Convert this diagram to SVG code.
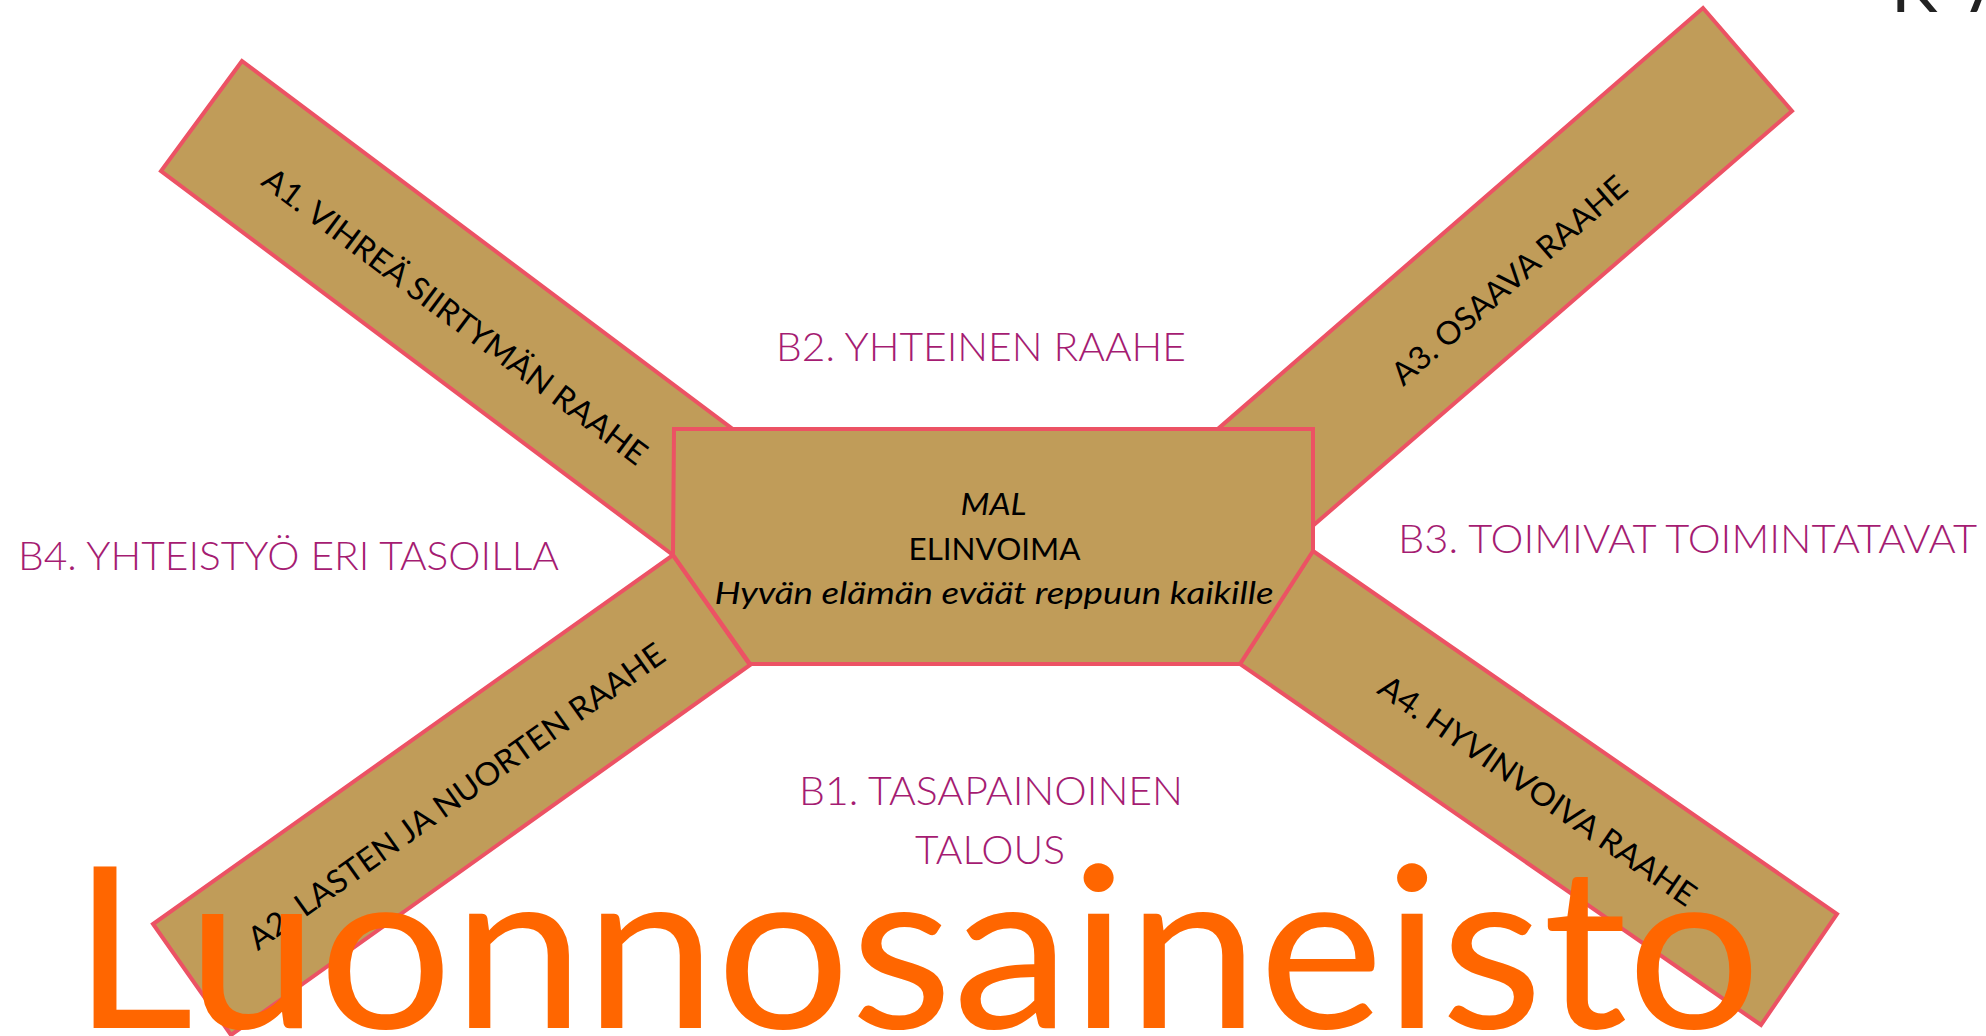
<svg xmlns="http://www.w3.org/2000/svg" width="1986" height="1036" viewBox="0 0 1986 1036">
<style>
.bar{fill:#C09C59;stroke:#EC5264;stroke-width:4;stroke-linejoin:miter}
.lbl{font-family:Lato,"Liberation Sans",sans-serif;font-size:32px;fill:#000}
.ctr{font-family:Lato,"Liberation Sans",sans-serif;font-size:30px;fill:#000}
.bt{font-family:Lato,"Liberation Sans",sans-serif;font-weight:300;font-size:40px;fill:#A51C72}
.wm{font-family:Lato,"Liberation Sans",sans-serif;font-size:226px;fill:#FF6600}
</style>
<rect width="1986" height="1036" fill="#FFFFFF"/>
<text x="1891 1970" y="12" style="font-family:Lato,'Liberation Sans',sans-serif;font-size:70px;fill:#222">KA</text>
<g id="node-A1">
<polygon class="bar" points="242,61 161,171 689,567 770,457"/>
</g>
<g id="node-A3">
<polygon class="bar" points="1703,8 1792,111 1278,556 1189,454"/>
</g>
<g id="node-A2">
<polygon class="bar" points="673,555 750,665 231,1035 153,924"/>
</g>
<g id="node-A4">
<polygon class="bar" points="1313,551 1837,914 1761,1025 1240,664"/>
</g>
<g id="node-center">
<polygon class="bar" points="674,429 1313,429 1313,551 1240,664 750,664 673,555"/>
<text class="ctr" x="993.5" y="515" text-anchor="middle" font-style="italic" textLength="66" lengthAdjust="spacingAndGlyphs">MAL</text>
<text class="ctr" x="994.5" y="560" text-anchor="middle" textLength="172" lengthAdjust="spacingAndGlyphs">ELINVOIMA</text>
<text class="ctr" x="994" y="604" text-anchor="middle" font-style="italic" textLength="559" lengthAdjust="spacingAndGlyphs">Hyvän elämän eväät reppuun kaikille</text>
</g>
<g id="labels-A">
<text class="lbl" transform="translate(455,316) rotate(36.87)" x="0" y="11.5" text-anchor="middle" textLength="471" lengthAdjust="spacingAndGlyphs">A1. VIHREÄ SIIRTYMÄN RAAHE</text>
<text class="lbl" transform="translate(1509,280) rotate(-40.95)" x="0" y="11.5" text-anchor="middle" textLength="300" lengthAdjust="spacingAndGlyphs">A3. OSAAVA RAAHE</text>
<text class="lbl" transform="translate(456,796) rotate(-35.45)" x="0" y="11.5" text-anchor="middle" textLength="503" lengthAdjust="spacingAndGlyphs">A2. LASTEN JA NUORTEN RAAHE</text>
<text class="lbl" transform="translate(1537.6,790.5) rotate(34.7)" x="0" y="11.5" text-anchor="middle" textLength="378" lengthAdjust="spacingAndGlyphs">A4. HYVINVOIVA RAAHE</text>
</g>
<g id="node-B2"><text class="bt" x="776" y="361" textLength="410" lengthAdjust="spacingAndGlyphs">B2. YHTEINEN RAAHE</text></g>
<g id="node-B4"><text class="bt" x="18" y="570" textLength="541" lengthAdjust="spacingAndGlyphs">B4. YHTEISTYÖ ERI TASOILLA</text></g>
<g id="node-B3"><text class="bt" x="1398" y="553" textLength="579" lengthAdjust="spacingAndGlyphs">B3. TOIMIVAT TOIMINTATAVAT</text></g>
<g id="node-B1">
<text class="bt" x="991" y="805" text-anchor="middle" textLength="384" lengthAdjust="spacingAndGlyphs">B1. TASAPAINOINEN</text>
<text class="bt" x="990" y="864" text-anchor="middle" textLength="150" lengthAdjust="spacingAndGlyphs">TALOUS</text>
</g>
<g id="watermark">
<text class="wm" x="72" y="1028" textLength="1689" lengthAdjust="spacingAndGlyphs">Luonnosaineisto</text>
</g>
</svg>
